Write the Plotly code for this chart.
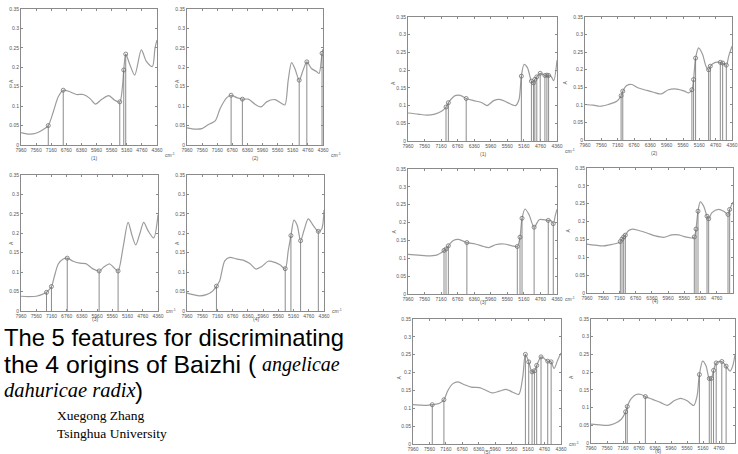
import plotly.graph_objects as go

W, H = 738, 454

# ---------------- data ----------------
x_ticks = [7960, 7560, 7160, 6760, 6360, 5960, 5560, 5160, 4760, 4360]
y_ticks = [0, 0.05, 0.1, 0.15, 0.2, 0.25, 0.3, 0.35]
y_tick_text = ["0", "0.05", "0.1", "0.15", "0.2", "0.25", "0.3", "0.35"]

# left block (4 origins, 5 features each)
wn_L1 = [7960, 7723, 7546, 7370, 7238, 7106, 6974, 6842, 6666, 6490, 6314, 6138, 5988, 5830, 5636, 5478,
         5346, 5275, 5240, 5188, 5082, 4950, 4774, 4641, 4483, 4412, 4360]
ab_L1 = [0.032, 0.028, 0.031, 0.040, 0.050, 0.085, 0.124, 0.141, 0.137, 0.130, 0.130, 0.120, 0.105, 0.117, 0.127, 0.115,
         0.111, 0.150, 0.193, 0.234, 0.208, 0.180, 0.245, 0.215, 0.202, 0.250, 0.270]
fw_L1 = [7238, 6842, 5346, 5240, 5188]
fa_L1 = [0.050, 0.141, 0.111, 0.193, 0.234]

wn_L2 = [7960, 7784, 7565, 7389, 7214, 7082, 6906, 6792, 6643, 6494, 6336, 6160, 6002, 5851, 5632, 5456,
         5368, 5280, 5193, 5105, 4990, 4885, 4788, 4666, 4534, 4464, 4385, 4360]
ab_L2 = [0.044, 0.041, 0.042, 0.053, 0.062, 0.094, 0.122, 0.128, 0.122, 0.118, 0.118, 0.105, 0.098, 0.111, 0.117, 0.107,
         0.103, 0.167, 0.212, 0.197, 0.167, 0.193, 0.214, 0.197, 0.189, 0.184, 0.236, 0.247]
fw_L2 = [6792, 6494, 4990, 4788, 4385]
fa_L2 = [0.128, 0.118, 0.167, 0.214, 0.236]

wn_L3 = [7960, 7760, 7560, 7420, 7290, 7160, 7080, 6981, 6850, 6745, 6588, 6413, 6256, 6081, 5907, 5776,
         5627, 5496, 5409, 5277, 5146, 5041, 4945, 4840, 4735, 4622, 4474, 4360]
ab_L3 = [0.038, 0.037, 0.038, 0.042, 0.048, 0.063, 0.090, 0.121, 0.134, 0.136, 0.128, 0.123, 0.122, 0.109, 0.103, 0.114,
         0.121, 0.109, 0.103, 0.164, 0.228, 0.194, 0.170, 0.198, 0.228, 0.207, 0.188, 0.248]
fw_L3 = [7290, 7160, 6745, 5907, 5409]
fa_L3 = [0.048, 0.063, 0.136, 0.103, 0.103]

wn_L4 = [7960, 7800, 7625, 7450, 7300, 7186, 7100, 6968, 6836, 6660, 6485, 6309, 6151, 6002, 5826, 5651,
         5519, 5379, 5300, 5229, 5150, 5063, 4975, 4887, 4773, 4641, 4509, 4421, 4360]
ab_L4 = [0.046, 0.042, 0.039, 0.042, 0.050, 0.064, 0.078, 0.129, 0.138, 0.134, 0.131, 0.122, 0.108, 0.114, 0.128, 0.125,
         0.119, 0.109, 0.155, 0.194, 0.234, 0.220, 0.181, 0.207, 0.237, 0.220, 0.205, 0.211, 0.260]
fw_L4 = [7186, 5379, 5229, 4975, 4509]
fa_L4 = [0.064, 0.109, 0.194, 0.181, 0.205]

# right block (6 spectra)
wn_R1 = [7960, 7716, 7513, 7310, 7123, 7042, 6985, 6822, 6700, 6554, 6375, 6172, 6050, 5888, 5725, 5563,
         5360, 5278, 5221, 5156, 5075, 4978, 4929, 4896, 4848, 4766, 4652, 4604, 4563, 4506, 4440, 4360]
ab_R1 = [0.079, 0.076, 0.073, 0.076, 0.086, 0.096, 0.108, 0.128, 0.129, 0.120, 0.114, 0.108, 0.100, 0.114, 0.117, 0.109,
         0.100, 0.117, 0.183, 0.216, 0.207, 0.169, 0.164, 0.174, 0.181, 0.191, 0.185, 0.186, 0.185, 0.183, 0.170, 0.228]
fw_R1 = [7042, 6985, 6554, 5221, 4978, 4929, 4896, 4848, 4766, 4652, 4604, 4563]
fa_R1 = [0.096, 0.108, 0.120, 0.183, 0.169, 0.164, 0.174, 0.181, 0.191, 0.185, 0.186, 0.185]

wn_R2 = [7960, 7755, 7592, 7387, 7183, 7076, 7035, 6937, 6815, 6651, 6446, 6283, 6095, 5915, 5710, 5522,
         5420, 5342, 5301, 5252, 5178, 5080, 4998, 4933, 4892, 4769, 4646, 4589, 4499, 4442, 4360]
ab_R2 = [0.101, 0.099, 0.096, 0.101, 0.110, 0.126, 0.139, 0.155, 0.158, 0.148, 0.141, 0.136, 0.131, 0.143, 0.145, 0.139,
         0.134, 0.143, 0.172, 0.233, 0.262, 0.243, 0.210, 0.200, 0.210, 0.221, 0.221, 0.219, 0.213, 0.238, 0.267]
fw_R2 = [7076, 7035, 5342, 5301, 5252, 4933, 4892, 4646, 4589, 4499]
fa_R2 = [0.126, 0.139, 0.143, 0.172, 0.233, 0.200, 0.210, 0.221, 0.219, 0.213]

wn_R3 = [7960, 7716, 7513, 7269, 7147, 7090, 7042, 6985, 6863, 6741, 6538, 6335, 6131, 6010, 5847, 5644,
         5441, 5319, 5254, 5205, 5132, 5035, 4913, 4791, 4685, 4571, 4506, 4450, 4400, 4360]
ab_R3 = [0.111, 0.109, 0.107, 0.109, 0.116, 0.122, 0.126, 0.135, 0.150, 0.153, 0.144, 0.140, 0.133, 0.130, 0.138, 0.140,
         0.135, 0.133, 0.159, 0.212, 0.238, 0.222, 0.187, 0.208, 0.208, 0.206, 0.206, 0.197, 0.220, 0.237]
fw_R3 = [7090, 7042, 6985, 6538, 5319, 5254, 5205, 4913, 4571, 4450]
fa_R3 = [0.122, 0.126, 0.135, 0.144, 0.133, 0.159, 0.212, 0.187, 0.206, 0.197]

wn_R4 = [7960, 7755, 7549, 7344, 7196, 7138, 7097, 7056, 7015, 6933, 6834, 6686, 6481, 6275, 6070, 5864,
         5700, 5535, 5371, 5314, 5272, 5223, 5166, 5083, 5001, 4960, 4878, 4714, 4590, 4483, 4442, 4360]
ab_R4 = [0.137, 0.134, 0.132, 0.136, 0.140, 0.144, 0.151, 0.157, 0.162, 0.175, 0.179, 0.175, 0.168, 0.160, 0.156, 0.163,
         0.163, 0.157, 0.154, 0.157, 0.179, 0.229, 0.255, 0.243, 0.215, 0.208, 0.225, 0.234, 0.229, 0.220, 0.234, 0.255]
fw_R4 = [7138, 7097, 7056, 7015, 5314, 5272, 5223, 5001, 4960, 4483, 4442]
fa_R4 = [0.144, 0.151, 0.157, 0.162, 0.157, 0.179, 0.229, 0.215, 0.208, 0.220, 0.234]

wn_R5 = [7960, 7798, 7636, 7491, 7313, 7208, 7111, 6989, 6868, 6706, 6544, 6342, 6180, 6035, 5857, 5695,
         5533, 5388, 5290, 5226, 5145, 5064, 5007, 4951, 4846, 4765, 4683, 4600, 4530, 4440, 4360]
ab_R5 = [0.110, 0.109, 0.108, 0.110, 0.114, 0.124, 0.150, 0.169, 0.174, 0.166, 0.159, 0.158, 0.150, 0.143, 0.148, 0.153,
         0.145, 0.139, 0.188, 0.251, 0.230, 0.202, 0.205, 0.220, 0.244, 0.239, 0.232, 0.230, 0.211, 0.235, 0.255]
fw_R5 = [7491, 7208, 5226, 5145, 5064, 5007, 4951, 4846, 4683, 4600]
fa_R5 = [0.110, 0.124, 0.251, 0.230, 0.202, 0.205, 0.220, 0.244, 0.232, 0.230]

wn_R6 = [7960, 7738, 7532, 7367, 7202, 7095, 7054, 6955, 6831, 6708, 6601, 6420, 6214, 6049, 5884, 5719,
         5555, 5390, 5308, 5250, 5168, 5085, 5003, 4953, 4896, 4830, 4690, 4582, 4484, 4418, 4360]
ab_R6 = [0.053, 0.051, 0.050, 0.055, 0.067, 0.088, 0.103, 0.125, 0.137, 0.137, 0.131, 0.123, 0.114, 0.106, 0.119, 0.126,
         0.119, 0.106, 0.133, 0.193, 0.231, 0.218, 0.182, 0.182, 0.205, 0.226, 0.230, 0.217, 0.203, 0.217, 0.249]
fw_R6 = [7095, 7054, 6601, 5250, 5003, 4953, 4896, 4830, 4690, 4582]
fa_R6 = [0.088, 0.103, 0.131, 0.193, 0.182, 0.182, 0.205, 0.226, 0.230, 0.217]

captions = ["(1)", "(2)", "(3)", "(4)", "(1)", "(2)", "(3)", "(4)", "(5)", "(6)"]

# ---------------- layout boxes (pixels: x0, x1, y0, y1) ----------------
panels = [
    (wn_L1, ab_L1, fw_L1, fa_L1, (21, 157, 9, 145), True),
    (wn_L2, ab_L2, fw_L2, fa_L2, (187, 323, 9, 145), True),
    (wn_L3, ab_L3, fw_L3, fa_L3, (21, 158, 175, 311), True),
    (wn_L4, ab_L4, fw_L4, fa_L4, (187, 324, 175, 311), True),
    (wn_R1, ab_R1, fw_R1, fa_R1, (408, 557, 17, 141), True),
    (wn_R2, ab_R2, fw_R2, fa_R2, (585, 732, 17, 140), False),
    (wn_R3, ab_R3, fw_R3, fa_R3, (408, 557, 169, 294), True),
    (wn_R4, ab_R4, fw_R4, fa_R4, (587, 733, 168, 293), False),
    (wn_R5, ab_R5, fw_R5, fa_R5, (413, 561, 319, 444), True),
    (wn_R6, ab_R6, fw_R6, fa_R6, (591, 735, 319, 443), False),
]

CURVE = "#9c9c9c"
VLINE = "#6e6e6e"
FRAME = "#8a8a8a"
TXT = "#555555"

fig = go.Figure()
annotations = []
layout = dict(
    width=W, height=H, margin=dict(l=0, r=0, t=0, b=0),
    paper_bgcolor="white", plot_bgcolor="white", showlegend=False,
)


def px(x):
    return x / W


def py(y):
    return 1 - y / H


for i, (wn, ab, fw, fa, box, cm) in enumerate(panels, start=1):
    x0, x1, y0, y1 = box
    xa = "x" if i == 1 else f"x{i}"
    ya = "y" if i == 1 else f"y{i}"
    fig.add_trace(go.Scatter(x=wn, y=ab, mode="lines", xaxis=xa, yaxis=ya,
                             line=dict(color=CURVE, width=1.2, shape="spline", smoothing=0.8),
                             hoverinfo="skip"))
    vx, vy = [], []
    for w, a in zip(fw, fa):
        vx += [w, w, None]
        vy += [0, a, None]
    fig.add_trace(go.Scatter(x=vx, y=vy, mode="lines", xaxis=xa, yaxis=ya,
                             line=dict(color=VLINE, width=0.8), hoverinfo="skip"))
    fig.add_trace(go.Scatter(x=fw, y=fa, mode="markers", xaxis=xa, yaxis=ya,
                             marker=dict(symbol="circle-open", size=4, color=VLINE,
                                         line=dict(width=0.8, color=VLINE)),
                             hoverinfo="skip"))
    kx = "xaxis" if i == 1 else f"xaxis{i}"
    ky = "yaxis" if i == 1 else f"yaxis{i}"
    layout[kx] = dict(domain=[px(x0), px(x1)], anchor=ya, range=[7960, 4360],
                      tickvals=x_ticks, ticktext=[str(t) for t in x_ticks],
                      ticks="inside", ticklen=2, tickcolor=FRAME, mirror="ticks",
                      showline=True, linecolor=FRAME, linewidth=1, showgrid=False, zeroline=False,
                      tickfont=dict(size=5, color=TXT, family="Liberation Sans"), tickangle=0,
                      automargin=False)
    layout[ky] = dict(domain=[py(y1), py(y0)], anchor=xa, range=[0, 0.35],
                      tickvals=y_ticks, ticktext=y_tick_text,
                      ticks="inside", ticklen=2, tickcolor=FRAME, mirror="ticks",
                      showline=True, linecolor=FRAME, linewidth=1, showgrid=False, zeroline=False,
                      tickfont=dict(size=5, color=TXT, family="Liberation Sans"),
                      automargin=False)
    annotations.append(dict(x=px(x0 - 15), y=py((y0 + y1) / 2), xref="paper", yref="paper",
                            text="A", showarrow=False, textangle=-90,
                            font=dict(size=5, color=TXT, family="Liberation Sans")))
    annotations.append(dict(x=px((x0 + x1) / 2), y=py(y1 + 12.5), xref="paper", yref="paper",
                            text=captions[i - 1], showarrow=False,
                            font=dict(size=5, color=TXT, family="Liberation Sans")))
    if cm:
        annotations.append(dict(x=px(x1 + 6), y=py(y1 + 5), xref="paper", yref="paper",
                                xanchor="left", text="cm<sup>-1</sup>", showarrow=False,
                                font=dict(size=5, color=TXT, family="Liberation Sans")))

SANS = "Liberation Sans, Arial"
SERIF = "Liberation Serif, Times New Roman"
text_pieces = [
    (2, 337, "The 5 features for discriminating", SANS, 23.8),
    (2, 364, "the 4 origins of Baizhi (", SANS, 24.8),
    (260, 364, "<i>angelicae</i>", SERIF, 20),
    (2, 390, "<i>dahuricae radix</i>", SERIF, 20.5),
    (133, 390, ")", SANS, 24),
    (55, 415, "Xuegong Zhang", SERIF, 13.5),
    (55, 433, "Tsinghua University", SERIF, 13.5),
]
for x, y, t, fam, sz in text_pieces:
    annotations.append(dict(x=px(x), y=py(y), xref="paper", yref="paper", xanchor="left",
                            yanchor="middle", text=t, showarrow=False,
                            font=dict(size=sz, color="black", family=fam)))

layout["annotations"] = annotations
fig.update_layout(**layout)
fig.write_html("out.html", config={"displayModeBar": False},
               post_script="document.body.style.margin='0';document.body.style.overflow='hidden';")
